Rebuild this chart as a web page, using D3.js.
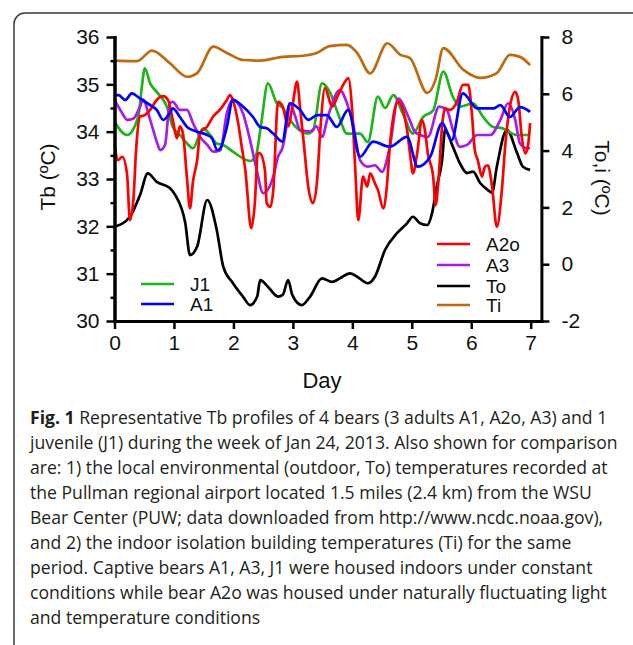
<!DOCTYPE html>
<html>
<head>
<meta charset="utf-8">
<script src="https://cdn.jsdelivr.net/npm/d3@7"></script>
<style>
body { margin: 0; background: #fff; }
svg text { font-family: "Liberation Sans", Arial, sans-serif; fill: #111; }
.caption text { font-family: "Open Sans", "Noto Sans", sans-serif; fill: #231f20; }
</style>
</head>
<body>
<div id="chart"></div>
<script>
// Tb series (left axis, degC)
var j1Day = [0, 0.21, 0.40, 0.46, 0.51, 0.60, 0.71, 0.88, 0.98, 1.10, 1.22, 1.32, 1.49, 1.61, 1.72, 1.83, 1.99, 2.28, 2.38, 2.46, 2.58, 2.73, 2.83, 2.95, 3.24, 3.34, 3.49, 3.62, 3.76, 3.91, 4.13, 4.26, 4.43, 4.55, 4.69, 4.85, 5.02, 5.19, 5.36, 5.53, 5.69, 5.81, 6.03, 6.20, 6.37, 6.53, 6.77, 6.99];
var j1Tb = [34.21, 33.93, 34.32, 34.95, 35.34, 35.02, 34.84, 34.53, 34.10, 33.93, 33.75, 33.65, 34.07, 33.93, 33.75, 33.72, 33.58, 33.38, 33.50, 34.10, 35.02, 34.60, 34.50, 34.25, 33.96, 34.03, 35.02, 34.84, 34.38, 33.96, 33.96, 33.78, 34.74, 34.50, 34.77, 34.38, 33.96, 34.31, 34.45, 35.27, 34.74, 34.53, 34.60, 34.31, 34.10, 34.07, 33.93, 33.93];

var a1Day = [0, 0.07, 0.18, 0.29, 0.43, 0.60, 0.71, 0.82, 0.93, 0.98, 1.10, 1.22, 1.39, 1.56, 1.64, 1.73, 1.78, 1.89, 1.99, 2.16, 2.33, 2.45, 2.56, 2.67, 2.82, 2.95, 3.12, 3.26, 3.41, 3.57, 3.74, 3.93, 4.13, 4.35, 4.63, 4.92, 5.10, 5.31, 5.51, 5.67, 5.86, 6.10, 6.37, 6.49, 6.65, 6.82, 6.99];
var a1Tb = [34.77, 34.77, 34.67, 34.81, 34.70, 34.56, 34.46, 34.25, 34.39, 34.49, 34.31, 34.10, 34.00, 33.93, 33.86, 33.61, 33.65, 34.10, 34.67, 34.53, 34.31, 34.10, 34.07, 33.96, 33.79, 34.60, 34.46, 34.25, 34.35, 34.35, 34.10, 34.46, 33.47, 33.79, 33.68, 33.89, 33.26, 33.47, 34.18, 33.82, 34.81, 34.49, 34.49, 34.56, 34.31, 34.52, 34.42];

var a2oDay = [0, 0.06, 0.13, 0.21, 0.26, 0.32, 0.36, 0.43, 0.51, 0.60, 0.71, 0.82, 0.90, 0.98, 1.05, 1.10, 1.15, 1.22, 1.27, 1.32, 1.39, 1.44, 1.56, 1.66, 1.77, 1.89, 1.94, 1.99, 2.08, 2.14, 2.20, 2.30, 2.36, 2.41, 2.45, 2.53, 2.56, 2.62, 2.67, 2.75, 2.83, 2.92, 3.00, 3.07, 3.12, 3.20, 3.26, 3.34, 3.41, 3.46, 3.54, 3.66, 3.76, 3.88, 3.93, 4.00, 4.05, 4.10, 4.18, 4.25, 4.30, 4.38, 4.43, 4.52, 4.58, 4.63, 4.69, 4.77, 4.85, 4.92, 4.97, 5.02, 5.09, 5.17, 5.22, 5.27, 5.36, 5.40, 5.44, 5.52, 5.56, 5.64, 5.76, 5.86, 5.95, 6.01, 6.06, 6.11, 6.18, 6.23, 6.28, 6.35, 6.43, 6.52, 6.57, 6.65, 6.74, 6.79, 6.85, 6.91, 6.96, 6.99];
var a2oTb = [33.75, 33.40, 33.47, 33.12, 32.13, 32.60, 33.55, 34.32, 34.35, 34.46, 34.67, 34.75, 34.67, 34.25, 33.86, 34.11, 33.97, 33.00, 32.38, 32.95, 33.40, 33.97, 34.11, 34.32, 34.46, 34.67, 34.77, 34.67, 34.18, 33.68, 33.19, 31.96, 32.49, 33.55, 33.54, 33.19, 32.49, 32.41, 32.76, 34.63, 34.53, 34.11, 34.60, 35.06, 34.53, 33.54, 32.82, 32.49, 33.00, 34.00, 34.92, 34.53, 34.77, 35.06, 35.13, 34.39, 33.19, 32.13, 33.05, 32.84, 33.12, 32.91, 32.77, 32.38, 32.84, 33.68, 34.32, 34.63, 34.46, 34.04, 33.54, 33.12, 33.54, 34.25, 34.04, 33.54, 33.05, 32.45, 32.84, 34.25, 34.49, 34.46, 34.63, 34.99, 34.99, 34.39, 33.61, 33.40, 33.05, 33.26, 33.29, 32.84, 31.99, 32.84, 33.68, 34.53, 34.84, 34.67, 33.89, 33.54, 33.75, 34.18];

var a3Day = [0, 0.13, 0.21, 0.32, 0.43, 0.48, 0.60, 0.71, 0.77, 0.85, 0.93, 0.98, 1.10, 1.22, 1.32, 1.44, 1.56, 1.66, 1.78, 1.89, 1.99, 2.16, 2.28, 2.39, 2.50, 2.67, 2.75, 2.83, 2.90, 2.95, 3.04, 3.12, 3.29, 3.40, 3.49, 3.59, 3.79, 3.91, 4.01, 4.13, 4.26, 4.38, 4.50, 4.63, 4.77, 4.94, 5.05, 5.14, 5.27, 5.46, 5.59, 5.69, 5.81, 5.93, 6.10, 6.32, 6.49, 6.62, 6.74, 6.82, 6.94, 6.99];
var a3Tb = [34.67, 34.39, 34.25, 34.28, 34.53, 34.67, 34.25, 33.79, 33.61, 33.72, 34.60, 34.63, 34.46, 34.46, 34.18, 33.89, 33.72, 33.58, 33.61, 34.39, 34.67, 34.39, 33.82, 33.20, 32.70, 33.05, 33.47, 33.68, 34.18, 34.60, 34.32, 34.04, 34.00, 34.11, 33.89, 34.32, 34.88, 34.60, 34.18, 33.40, 33.26, 33.29, 33.15, 33.68, 34.70, 34.32, 34.00, 33.93, 33.89, 34.53, 34.46, 34.04, 33.68, 33.72, 33.93, 33.93, 34.25, 34.60, 34.25, 33.75, 33.65, 33.65];

// To / Ti (right axis, degC)
var toDay = [0, 0.26, 0.43, 0.56, 0.71, 0.93, 1.02, 1.19, 1.27, 1.39, 1.56, 1.72, 1.83, 1.99, 2.16, 2.28, 2.40, 2.45, 2.58, 2.75, 2.83, 2.92, 2.99, 3.15, 3.29, 3.49, 3.66, 3.79, 3.96, 4.08, 4.26, 4.38, 4.55, 4.75, 4.92, 5.02, 5.14, 5.26, 5.34, 5.42, 5.51, 5.56, 5.69, 5.81, 5.93, 6.03, 6.15, 6.28, 6.35, 6.43, 6.60, 6.77, 6.87, 6.99];
var toT = [1.32, 1.67, 2.44, 3.20, 2.90, 2.68, 2.44, 1.45, 0.32, 0.62, 2.26, 1.20, -0.09, -0.66, -1.14, -1.44, -1.14, -0.56, -0.79, -1.14, -1.08, -0.56, -1.08, -1.44, -1.14, -0.50, -0.62, -0.50, -0.32, -0.44, -0.67, -0.44, 0.50, 1.09, 1.44, 1.67, 1.44, 1.38, 1.79, 2.73, 3.67, 4.73, 4.14, 3.55, 3.21, 3.26, 2.86, 2.61, 2.51, 3.43, 4.73, 3.92, 3.43, 3.32];

var tiDay = [0, 0.38, 0.63, 0.93, 1.22, 1.39, 1.66, 1.89, 2.16, 2.45, 2.83, 3.12, 3.40, 3.62, 3.91, 4.08, 4.30, 4.59, 4.81, 4.97, 5.26, 5.40, 5.53, 5.87, 6.15, 6.43, 6.65, 6.82, 6.99];
var tiT = [7.17, 7.15, 7.52, 7.08, 6.60, 6.73, 7.66, 7.44, 7.19, 7.17, 7.30, 7.33, 7.44, 7.68, 7.72, 7.44, 6.72, 7.78, 7.37, 7.26, 6.03, 6.50, 7.61, 6.84, 6.56, 6.73, 7.37, 7.30, 7.01];

var dayTicks = [0, 1, 2, 3, 4, 5, 6, 7];
var tbTicks = [30, 31, 32, 33, 34, 35, 36];
var tbMinor = [30.5, 31.5, 32.5, 33.5, 34.5, 35.5];
var toiTicks = [-2, 0, 2, 4, 6, 8];

var captionLines = [
    "Representative Tb profiles of 4 bears (3 adults A1, A2o, A3) and 1",
    "juvenile (J1) during the week of Jan 24, 2013. Also shown for comparison",
    "are: 1) the local environmental (outdoor, To) temperatures recorded at",
    "the Pullman regional airport located 1.5 miles (2.4 km) from the WSU",
    "Bear Center (PUW; data downloaded from http://www.ncdc.noaa.gov),",
    "and 2) the indoor isolation building temperatures (Ti) for the same",
    "period. Captive bears A1, A3, J1 were housed indoors under constant",
    "conditions while bear A2o was housed under naturally fluctuating light",
    "and temperature conditions"
];

var width = 633, height = 645;

var svg = d3.select("#chart").append("svg")
    .attr("width", width)
    .attr("height", height);

// frame around figure
svg.append("rect")
    .attr("x", 14).attr("y", 13)
    .attr("width", 700).attr("height", 700)
    .attr("rx", 11)
    .attr("fill", "none")
    .attr("stroke", "#3a3a3a")
    .attr("stroke-width", 1.5);

var xScale = d3.scaleLinear().domain([0, 7.18]).range([114.5, 541.4]);
var yLeft = d3.scaleLinear().domain([30, 36]).range([321, 37]);
var yRight = d3.scaleLinear().domain([-2, 8]).range([321, 37]);

var plainNum = function(d) { return String(d); };

function styleAxis(g) {
    g.selectAll(".domain").attr("stroke-width", 3).attr("stroke-linecap", "square").attr("stroke", "#000");
    g.selectAll(".tick line").attr("stroke-width", 2.5).attr("stroke", "#000");
    g.selectAll(".tick text").attr("font-size", 21).attr("fill", "#111")
        .style("font-family", "'Liberation Sans', Arial, sans-serif");
}

// series lines
var tbLine = d3.line()
    .x(function(d) { return xScale(d[0]); })
    .y(function(d) { return yLeft(d[1]); })
    .curve(d3.curveMonotoneX);

var toiLine = d3.line()
    .x(function(d) { return xScale(d[0]); })
    .y(function(d) { return yRight(d[1]); })
    .curve(d3.curveMonotoneX);

var series = [
    {name: "Ti", data: d3.zip(tiDay, tiT), line: toiLine, color: "#c0690f"},
    {name: "To", data: d3.zip(toDay, toT), line: toiLine, color: "#000000"},
    {name: "J1", data: d3.zip(j1Day, j1Tb), line: tbLine, color: "#1db41d"},
    {name: "A3", data: d3.zip(a3Day, a3Tb), line: tbLine, color: "#a51ee8"},
    {name: "A2o", data: d3.zip(a2oDay, a2oTb), line: tbLine, color: "#ff0000"},
    {name: "A1", data: d3.zip(a1Day, a1Tb), line: tbLine, color: "#0000ff"}
];

svg.selectAll(".series")
    .data(series)
    .enter().append("path")
    .attr("class", "series")
    .attr("fill", "none")
    .attr("stroke", function(d) { return d.color; })
    .attr("stroke-width", 2.7)
    .attr("stroke-linejoin", "round")
    .attr("d", function(d) { return d.line(d.data); });

// axes
var gx = svg.append("g")
    .attr("transform", "translate(0,321)")
    .call(d3.axisBottom(xScale).tickValues(dayTicks).tickSize(8).tickSizeOuter(0).tickPadding(6).tickFormat(plainNum));
styleAxis(gx);

var gyMinor = svg.append("g")
    .attr("transform", "translate(114.5,0)")
    .call(d3.axisLeft(yLeft).tickValues(tbMinor).tickSize(4).tickSizeOuter(0).tickFormat(""));
styleAxis(gyMinor);

var gy = svg.append("g")
    .attr("transform", "translate(114.5,0)")
    .call(d3.axisLeft(yLeft).tickValues(tbTicks).tickSize(8).tickSizeOuter(0).tickPadding(7).tickFormat(plainNum));
styleAxis(gy);

var gy2 = svg.append("g")
    .attr("transform", "translate(541.4,0)")
    .call(d3.axisRight(yRight).tickValues(toiTicks).tickSize(8).tickSizeOuter(0).tickPadding(12).tickFormat(plainNum));
styleAxis(gy2);

// axis titles
svg.append("text")
    .attr("transform", "translate(55,177) rotate(-90)")
    .attr("text-anchor", "middle")
    .attr("font-size", 21)
    .text("Tb (\u00baC)");

svg.append("text")
    .attr("transform", "translate(595,178) rotate(90)")
    .attr("text-anchor", "middle")
    .attr("font-size", 21)
    .text("To,i (\u00baC)");

svg.append("text")
    .attr("x", 322).attr("y", 388)
    .attr("text-anchor", "middle")
    .attr("font-size", 22)
    .text("Day");

// legends
var legLeft = [
    {name: "J1", color: "#1db41d", y: 284},
    {name: "A1", color: "#0000ff", y: 304}
];
var legRight = [
    {name: "A2o", color: "#ff0000", y: 244},
    {name: "A3", color: "#a51ee8", y: 265},
    {name: "To", color: "#000000", y: 286},
    {name: "Ti", color: "#c0690f", y: 305}
];

function drawLegend(items, x0) {
    var g = svg.append("g");
    var row = g.selectAll("g").data(items).enter().append("g")
        .attr("transform", function(d) { return "translate(" + x0 + "," + d.y + ")"; });
    row.append("line")
        .attr("x1", 0).attr("x2", 33)
        .attr("stroke", function(d) { return d.color; })
        .attr("stroke-width", 2.7);
    row.append("text")
        .attr("x", 49).attr("y", 7)
        .attr("font-size", 19)
        .text(function(d) { return d.name; });
}
drawLegend(legLeft, 141);
drawLegend(legRight, 437);

// caption
var cap = svg.append("g").attr("class", "caption");
cap.selectAll("text")
    .data(captionLines)
    .enter().append("text")
    .attr("x", 30)
    .attr("y", function(d, i) { return 424 + i * 25; })
    .attr("font-size", 17.6)
    .each(function(d, i) {
        var t = d3.select(this);
        if (i == 0) {
            t.append("tspan").attr("font-weight", "bold").text("Fig. 1");
            t.append("tspan").text(" " + d);
        } else {
            t.text(d);
        }
    });
</script>
</body>
</html>
